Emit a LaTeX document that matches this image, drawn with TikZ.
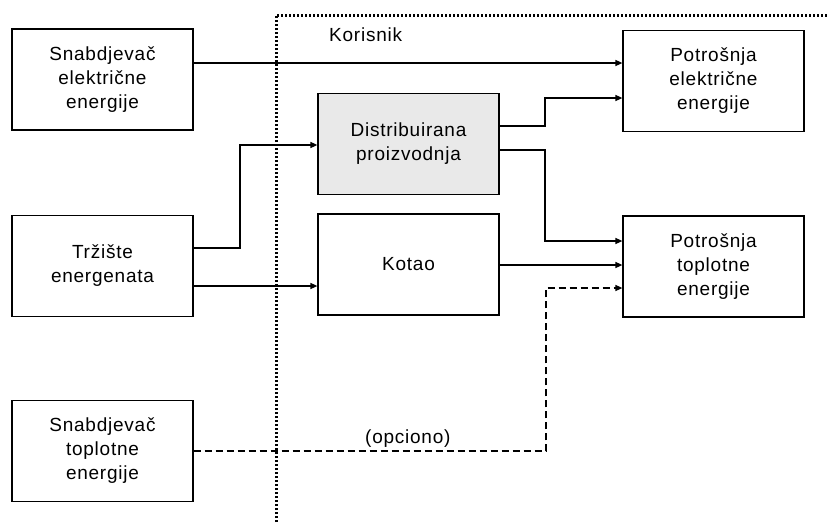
\documentclass[tikz,border=0pt]{standalone}
\usepackage{fontspec}
\setmainfont{Liberation Sans}[LetterSpace=4]
\usetikzlibrary{arrows.meta}
\begin{document}
\begin{tikzpicture}[x=1pt,y=-1pt,
  box/.style={draw,line width=1.2pt,minimum width=181pt,minimum height=101pt,inner sep=0pt,align=center,font=\fontsize{19}{24}\selectfont},
  arr/.style={line width=1.4pt,-{Triangle[length=7pt,width=6pt]}},
  lbl/.style={font=\fontsize{19}{24}\selectfont,inner sep=0pt,anchor=base west},
  boundary/.style={line width=3pt,dash pattern=on 2.2pt off 1.8pt}]
\useasboundingbox (0,0) rectangle (827,522);
\node[box] (se) at (102.5,79.5) {Snabdjevač\\električne\\energije};
\node[box] (te) at (102.5,266) {Tržište\\energenata};
\node[box] (st) at (102.5,451) {Snabdjevač\\toplotne\\energije};
\node[box,fill=gray!17] (dp) at (408.5,144) {Distribuirana\\proizvodnja};
\node[box] (ko) at (408.5,264.5) {Kotao};
\node[box] (pe) at (713.5,81) {Potrošnja\\električne\\energije};
\node[box] (pt) at (713.5,266.5) {Potrošnja\\toplotne\\energije};
\coordinate (bl) at (276,522);
\coordinate (tl) at (276,15);
\coordinate (tr) at (827,15);
\draw[boundary] (bl) -- (tl) -- (tr);
\node[lbl] (kor) at (329,41) {Korisnik};
\node[lbl] (opc) at (365,443) {(opciono)};
\draw[arr] (se.east |- 0,63) -- (pe.west |- 0,63);
\draw[arr] (dp.east |- 0,126) -| (545,98) -- (pe.west |- 0,98);
\draw[arr] (dp.east |- 0,150) -| (545,241) -- (pt.west |- 0,241);
\draw[arr] (ko.east |- 0,265) -- (pt.west |- 0,265);
\draw[arr] (te.east |- 0,248) -| (240,145) -- (dp.west |- 0,145);
\draw[arr] (te.east |- 0,286) -- (ko.west |- 0,286);
\draw[arr,dash pattern=on 7pt off 4pt] (st.east |- 0,451) -| (546,288) -- (pt.west |- 0,288);
\end{tikzpicture}
\end{document}
